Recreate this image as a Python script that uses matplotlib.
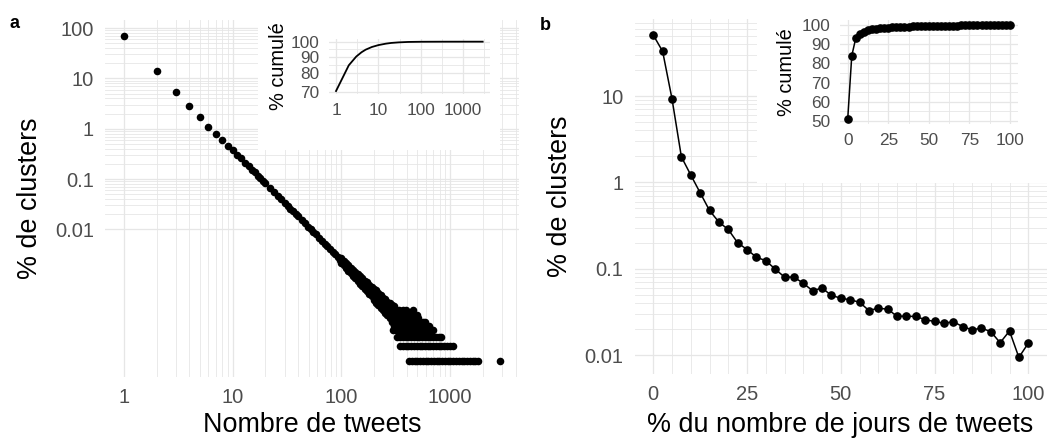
import numpy as np
import matplotlib.pyplot as plt
from matplotlib.ticker import FixedLocator, FixedFormatter, NullFormatter

plt.rcParams['font.family'] = ['Liberation Sans', 'DejaVu Sans']

# ---- panel a : % of clusters by number of tweets in the cluster ----
head_n = [1, 2, 3, 4, 5, 6, 7, 8, 9, 10]
head_pct = [70.5, 14.1, 5.4, 2.8, 1.68, 1.1, 0.8, 0.6, 0.46, 0.38]

band_n = [11, 12, 13, 14, 15, 16, 17, 18, 19, 20, 22, 24, 26, 28, 30, 32, 34,
          36, 38, 40, 43, 46, 49, 52, 55, 58, 62, 66, 70, 74, 78, 83, 88, 93, 98]
band_pct = [0.305, 0.258, 0.211, 0.183, 0.154, 0.136, 0.117, 0.105, 0.091,
            0.083, 0.066, 0.056, 0.046, 0.040, 0.0335, 0.0296, 0.0255, 0.0229,
            0.0199, 0.0182, 0.0151, 0.0134, 0.0113, 0.0102, 0.0088, 0.0081,
            0.0068, 0.0060, 0.0052, 0.0047, 0.0041, 0.0036, 0.0032, 0.0028,
            0.0025]

# beyond ~100 tweets the values are small integer cluster counts
total_clusters = 4_080_000
spread_n = [100, 105, 110, 116, 122, 128, 134, 141, 148, 155, 163, 171, 180,
            189, 198, 208, 218, 229, 240, 252, 265, 278, 292, 306]
spread_lo = [88, 79, 71, 62, 55, 49, 44, 39, 34, 31, 27, 24, 21, 19, 16, 14,
             13, 11, 10, 9, 8, 7, 6, 5]
spread_mid = [98, 88, 80, 71, 64, 57, 51, 46, 41, 37, 33, 30, 27, 24, 21, 19,
              17, 15, 14, 12, 11, 10, 9, 8]
spread_hi = [108, 97, 89, 79, 71, 65, 59, 53, 48, 44, 39, 36, 32, 29, 27, 25,
             22, 20, 18, 17, 15, 14, 13, 12]

n_1cl = [418, 443, 470, 498, 528, 560, 594, 630, 668, 708, 750, 795, 843, 894,
         948, 1005, 1065, 1130, 1200, 1270, 1350, 1430, 1515, 1605, 1700, 1800,
         2877]
n_2cl = [347, 368, 390, 413, 438, 464, 492, 522, 553, 586, 621, 658, 698, 740,
         784, 831, 881, 934, 990, 1050]
n_3cl = [326, 345, 366, 388, 411, 436, 462, 490, 519, 550, 583, 618, 655, 694,
         736, 780, 827]
n_4cl = [300, 318, 337, 357, 378, 401, 425, 450, 477, 506, 536, 568, 602, 638,
         676, 700]
n_5cl = [322, 341, 361, 383, 406, 430, 456, 483, 512, 543, 575, 610, 640]
n_6cl = [315, 334, 354, 375, 398, 422, 447, 474, 502, 532, 564, 590]
n_7cl = [320, 340, 360, 382, 405, 430, 455, 482, 510]
n_8cl = [315, 335, 355, 376, 399, 423, 448, 475, 500]
n_9cl = [320, 345, 370, 400, 430]
n_10cl = [315, 340, 365, 390, 455]

# inset a : cumulative %
cum_n_a = [1, 2, 3, 4, 5, 7, 10, 15, 20, 30, 50, 100, 300, 1000, 2877]
cum_pct_a = [70.5, 84.6, 90.0, 92.8, 94.5, 96.3, 97.6, 98.6, 99.1, 99.5, 99.8,
             99.93, 99.98, 99.995, 100.0]

# ---- panel b : % of clusters by % of days with tweets ----
days_pct = [0, 2.5, 5, 7.5, 10, 12.5, 15, 17.5, 20, 22.5, 25, 27.5, 30, 32.5,
            35, 37.5, 40, 42.5, 45, 47.5, 50, 52.5, 55, 57.5, 60, 62.5, 65,
            67.5, 70, 72.5, 75, 77.5, 80, 82.5, 85, 87.5, 90, 92.5, 95, 97.5, 100]
clusters_pct_b = [51.0, 33.0, 9.3, 1.98, 1.22, 0.76, 0.474, 0.347, 0.285, 0.200,
                  0.167, 0.136, 0.124, 0.0993, 0.080, 0.080, 0.068, 0.0555,
                  0.0600, 0.049, 0.0457, 0.0436, 0.041, 0.0328, 0.0349, 0.034,
                  0.0282, 0.0282, 0.028, 0.0257, 0.0245, 0.0234, 0.0243, 0.0214,
                  0.0196, 0.0205, 0.0187, 0.0139, 0.0190, 0.0094, 0.0137]

# assemble panel a points
tail_n, tail_k = [], []
for col in (spread_lo, spread_mid, spread_hi):
    tail_n += spread_n
    tail_k += col
for k, ns in [(1, n_1cl), (2, n_2cl), (3, n_3cl), (4, n_4cl), (5, n_5cl),
              (6, n_6cl), (7, n_7cl), (8, n_8cl), (9, n_9cl), (10, n_10cl)]:
    tail_n += ns
    tail_k += [k] * len(ns)
x_a = np.array(head_n + band_n + tail_n, dtype=float)
y_a = np.array(head_pct + band_pct +
               list(np.array(tail_k) / total_clusters * 100))

W, H = 1047, 441
GRID = '#E6E6E6'
TXT = '#4D4D4D'


def box(l, t, w, h):
    return [l / W, 1 - (t + h) / H, w / W, h / H]


def log_lim(vals, f=0.05):
    lo, hi = np.log10(np.min(vals)), np.log10(np.max(vals))
    d = (hi - lo) * f
    return 10 ** (lo - d), 10 ** (hi + d)


def lin_lim(vals, f=0.05):
    lo, hi = np.min(vals), np.max(vals)
    d = (hi - lo) * f
    return lo - d, hi + d


def style(ax, size, pad):
    for s in ax.spines.values():
        s.set_visible(False)
    ax.tick_params(which='both', length=0, labelsize=size, colors=TXT, pad=pad)
    ax.grid(which='major', color=GRID, lw=0.9)
    ax.grid(which='minor', color=GRID, lw=0.6)
    ax.set_axisbelow(True)


def logminor(lo, hi):
    return [k * 10.0 ** j for j in range(lo, hi) for k in range(2, 10)]


fig = plt.figure(figsize=(W / 100, H / 100), dpi=100)

# ---- panel a ----
ax = fig.add_axes(box(105, 19.5, 414, 357.5))
ax.scatter(x_a, y_a, s=30, color='black', lw=0, zorder=3)
ax.set_xscale('log')
ax.set_yscale('log')
ax.set_xlim(log_lim(x_a))
ax.set_ylim(log_lim(y_a))
ax.xaxis.set_major_locator(FixedLocator([1, 10, 100, 1000]))
ax.xaxis.set_major_formatter(FixedFormatter(['1', '10', '100', '1000']))
ax.xaxis.set_minor_locator(FixedLocator(logminor(0, 4)))
ax.xaxis.set_minor_formatter(NullFormatter())
ax.yaxis.set_major_locator(FixedLocator([0.01, 0.1, 1, 10, 100]))
ax.yaxis.set_major_formatter(FixedFormatter(['0.01', '0.1', '1', '10', '100']))
ax.yaxis.set_minor_locator(FixedLocator(logminor(-2, 2)))
ax.yaxis.set_minor_formatter(NullFormatter())
style(ax, 14.5, 8)

# ---- panel b ----
bx = fig.add_axes(box(634.5, 18.9, 412.5, 354.6))
bx.plot(days_pct, clusters_pct_b, color='black', lw=1.1, marker='o', ms=5.2,
        zorder=3)
bx.set_yscale('log')
bx.set_xlim(lin_lim(days_pct))
bx.set_ylim(log_lim(clusters_pct_b))
bx.xaxis.set_major_locator(FixedLocator([0, 25, 50, 75, 100]))
bx.xaxis.set_minor_locator(FixedLocator(np.arange(5, 100, 5)))
bx.yaxis.set_major_locator(FixedLocator([0.01, 0.1, 1, 10]))
bx.yaxis.set_major_formatter(FixedFormatter(['0.01', '0.1', '1', '10']))
bx.yaxis.set_minor_locator(FixedLocator(logminor(-2, 2)))
bx.yaxis.set_minor_formatter(NullFormatter())
style(bx, 14.5, 8)

# white backgrounds behind the insets
for b in (box(258, 20, 242, 130), box(757, 0, 290, 183)):
    bg = fig.add_axes(b)
    bg.set_facecolor('white')
    bg.set_xticks([])
    bg.set_yticks([])
    for s in bg.spines.values():
        s.set_visible(False)

# ---- inset a ----
ia = fig.add_axes(box(328.7, 39.2, 161.3, 54.3))
ia.plot(cum_n_a, cum_pct_a, color='black', lw=1.3)
ia.set_xscale('log')
ia.set_yscale('log')
ia.set_xlim(log_lim(x_a))
ia.set_ylim(log_lim(cum_pct_a))
ia.xaxis.set_major_locator(FixedLocator([1, 10, 100, 1000]))
ia.xaxis.set_major_formatter(FixedFormatter(['1', '10', '100', '1000']))
ia.xaxis.set_minor_locator(FixedLocator([10 ** 0.5, 10 ** 1.5, 10 ** 2.5, 10 ** 3.5]))
ia.xaxis.set_minor_formatter(NullFormatter())
ia.yaxis.set_major_locator(FixedLocator([70, 80, 90, 100]))
ia.yaxis.set_major_formatter(FixedFormatter(['70', '80', '90', '100']))
ia.yaxis.set_minor_locator(FixedLocator([np.sqrt(70 * 80), np.sqrt(80 * 90),
                                         np.sqrt(90 * 100)]))
ia.yaxis.set_minor_formatter(NullFormatter())
style(ia, 12.4, 6.8)

# ---- inset b ----
cum_b = np.cumsum(clusters_pct_b)
ib = fig.add_axes(box(839.6, 20.3, 178.4, 103.5))
ib.plot(days_pct, cum_b, color='black', lw=1.1, marker='o', ms=5.2)
ib.set_xlim(lin_lim(days_pct))
ib.set_ylim(lin_lim(cum_b))
ib.xaxis.set_major_locator(FixedLocator([0, 25, 50, 75, 100]))
ib.xaxis.set_minor_locator(FixedLocator([12.5, 37.5, 62.5, 87.5]))
ib.yaxis.set_major_locator(FixedLocator([50, 60, 70, 80, 90, 100]))
ib.yaxis.set_minor_locator(FixedLocator([55, 65, 75, 85, 95]))
style(ib, 12.4, 6.8)

# ---- titles ----
TS = 19.4
fig.text(312 / W, 1 - 432 / H, 'Nombre de tweets', fontsize=TS,
         ha='center', va='baseline')
fig.text(840.5 / W, 1 - 432 / H, '% du nombre de jours de tweets', fontsize=TS,
         ha='center', va='baseline')
fig.text(30 / W, 1 - 198 / H, '% de clusters', fontsize=TS, rotation=90,
         ha='center', va='center')
fig.text(560 / W, 1 - 196 / H, '% de clusters', fontsize=TS, rotation=90,
         ha='center', va='center')
fig.text(279 / W, 1 - 66.4 / H, '% cumulé', fontsize=14.4, rotation=90,
         ha='center', va='center')
fig.text(787 / W, 1 - 72 / H, '% cumulé', fontsize=14.4, rotation=90,
         ha='center', va='center')
fig.text(10 / W, 1 - 28 / H, 'a', fontsize=13, fontweight='bold')
fig.text(540 / W, 1 - 30 / H, 'b', fontsize=13, fontweight='bold')

fig.savefig('out.png', dpi=100, facecolor='white')
